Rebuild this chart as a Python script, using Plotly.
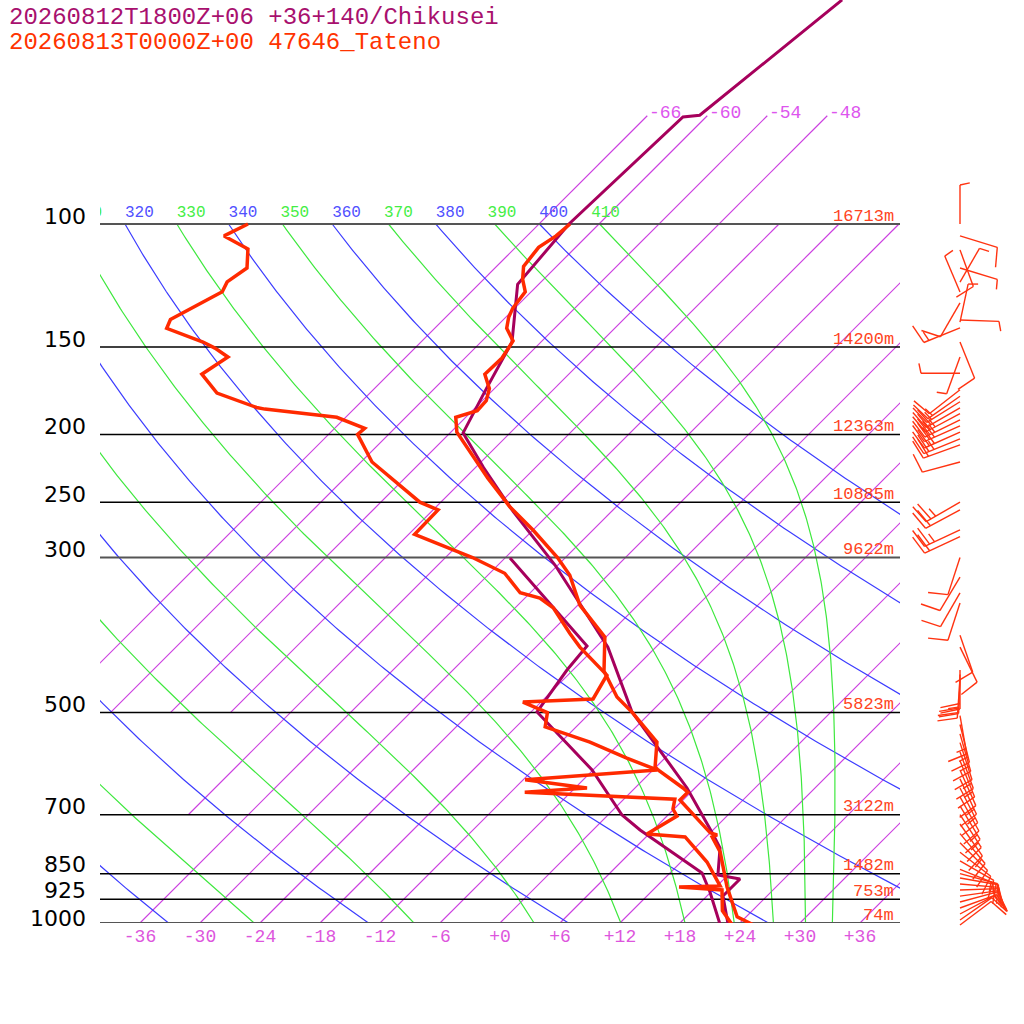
import numpy as np
import plotly.graph_objects as go

# ---------------- data ----------------
TITLE1 = "20260812T1800Z+06 +36+140/Chikusei"
TITLE2 = "20260813T0000Z+00 47646_Tateno"

# Tateno (47646) temperature profile, bottom -> top
tateno_t_p = [1006, 980, 888, 791, 753, 748, 743, 667, 650, 641, 604, 598, 551, 500, 475, 436, 390, 351, 318, 300,
              274, 254, 231, 212, 198.5, 189, 185, 179, 172, 164, 155.5, 147, 141, 136, 132, 125, 120, 115, 108, 104, 100]
tateno_t = [25.5, 23.1, 19.1, 14.9, 12.6, 12.9, 12.0, 5.7, 5.7, 4.8, 0.5, -0.1, -2.4, -7.8, -10.9, -14.8, -18.1, -23.8, -27.8, -30.8,
            -36.0, -40.6, -45.7, -50.1, -53.4, -55.0, -53.5, -53.6, -54.5, -56.4, -56.3, -56.9, -58.8, -59.7, -60.2, -60.6, -62.1, -63.3, -63.7, -63.1, -62.9]
# Tateno dew point profile
tateno_td_p = [1006, 960, 897, 888, 885, 818, 753, 746, 703, 687, 665, 650, 641, 624, 604, 581, 551, 524, 500, 483, 478,
               442, 403, 385, 354, 343, 337, 316, 300, 278, 256.5, 250, 219, 200, 196, 189, 184, 183, 174.5, 164, 155,
               150.5, 147.5, 141, 137, 129, 125, 121, 115.6, 108.6, 104, 100]
tateno_td = [23.4, 21.0, 18.9, 14.3, 18.3, 14.6, 9.9, 5.8, 7.0, 5.9, 5.1, -10.6, -4.8, -11.8, 0.4, -3.8, -9.1, -15.1, -16.3, -19.8, -13.1,
             -14.1, -19.6, -22.0, -26.2, -28.5, -31.0, -34.5, -39.3, -47.4, -47.5, -50.1, -58.9, -63.1, -63.0, -66.9, -74.9, -75.9, -81.3, -84.7, -83.8,
             -86.0, -87.8, -92.8, -93.3, -91.6, -90.9, -91.4, -90.8, -92.6, -96.3, -95.1]
# Chikusei model profile
chik_t_p = [1006, 915, 865, 854, 781, 743, 641, 560, 499, 403, 348.6, 307.5, 258, 223, 199, 172, 147.5, 122, 100, 70.3, 69.9, 47.8]
chik_t = [23.0, 19.6, 19.6, 17.0, 14.5, 12.2, 5.2, -1.9, -7.9, -16.8, -24.0, -30.3, -39.8, -47.2, -52.7, -54.8, -56.9, -62.1, -63.0, -62.3, -60.8, -58.1]
chik_td_p = [1006, 903, 848, 736, 700.6, 604, 499, 434.6, 401.5, 348.6, 300.5]
chik_td = [22.2, 17.9, 15.2, 4.7, 1.4, -6.1, -17.4, -18.6, -19.0, -27.0, -35.5]

# pressure levels and heights
levels = [1000, 925, 850, 700, 500, 300, 250, 200, 150, 100]
heights = ["74m", "753m", "1482m", "3122m", "5823m", "9622m", "10885m", "12363m", "14200m", "16713m"]
gray_levels = [1000, 300, 100]

# temperature ticks
t_ticks = list(range(-36, 37, 6))
t_ticktext = [("+%d" % v if v >= 0 else "%d" % v) for v in t_ticks]
isotherms = list(range(-66, 37, 6))
top_iso_labels = [-66, -60, -54, -48]
dry_thetas = list(range(240, 401, 20))
moist_thetaes = list(range(250, 411, 20))
theta_labels = list(range(310, 411, 10))

# winds (Tateno): pressure, direction (deg), speed (kt)
wind_p = [100, 104.0, 108.9, 115.6, 121.1, 125.1, 129.7, 137.2, 138.2, 140.8, 147.5, 155.0, 163.5, 172.6, 176.4,
          179.6, 183.3, 186.8, 190.7, 194.4, 198.5, 203, 207, 219, 250, 256.5, 274, 280, 300, 320, 337, 348.6,
          387.5, 403, 434.6, 441, 448, 505, 520, 536.4, 552, 569.2, 586, 604.1, 622,
          641.0, 660, 680.1, 700, 721.7, 745, 768, 792, 815, 838, 850, 862.2,
          879.4, 897.0, 915.1, 933.2, 951.8, 970.8, 990.2, 1006.6]
wind_dir = [0, 107, 160, 107, 30, 337, 210, 92, 12, 248, 158, 200, 270, 232, 235,
            238, 240, 242, 244, 246, 246, 248, 250, 255, 240, 242, 245, 245, 198, 211, 210, 198,
            161, 154, 180, 182, 184, 170, 166, 164, 162, 160, 158, 156, 155,
            153, 151, 149, 147, 145, 140, 135, 128, 120, 112, 105, 100,
            95, 88, 82, 75, 70, 62, 55, 53]
wind_spd = [5, 10, 10, 5, 5, 5, 10, 5, 5, 15, 10, 5, 5, 10, 15,
            15, 20, 25, 25, 30, 30, 25, 20, 10, 25, 20, 25, 20, 10, 10, 10, 10,
            10, 10, 20, 20, 25, 15, 15, 15, 10, 15, 15, 10, 15,
            15, 10, 15, 15, 10, 15, 10, 10, 10, 15, 10, 15,
            15, 15, 10, 10, 10, 10, 10, 10]

# ---------------- geometry helpers ----------------
PX_PER_DECADE = 699.0
SKEW = PX_PER_DECADE / 10.0  # degC of x-shift per decade of pressure
P_TOP = 10 ** (3 - 923 / PX_PER_DECADE)


def skx(T, p):
    return np.asarray(T, dtype=float) + SKEW * (3 - np.log10(np.asarray(p, dtype=float)))


Rd, Cp, Lv, EPS = 287.04, 1005.7, 2.501e6, 0.622


def esat(tk):
    tc = tk - 273.15
    return 6.112 * np.exp(17.67 * tc / (tc + 243.5))


def dtdp(tk, p):
    e = esat(tk)
    r = EPS * e / (p - e)
    return (Rd * tk + Lv * r) / (p * (Cp + Lv * Lv * r * EPS / (Rd * tk * tk)))


def theta_e(tk, p):
    e = esat(tk)
    r = 1000 * EPS * e / (p - e)
    th = tk * (1000.0 / p) ** (0.2854 * (1 - 0.00028 * r))
    return th * np.exp((3.376 / tk - 0.00254) * r * (1 + 0.00081 * r))


def moist_profile(the, pgrid):
    lo, hi = 200.0, 330.0
    for _ in range(60):
        mid = 0.5 * (lo + hi)
        if theta_e(mid, 1000.0) > the:
            hi = mid
        else:
            lo = mid
    t = 0.5 * (lo + hi)
    out = [t]
    for i in range(1, len(pgrid)):
        p0, p1 = pgrid[i - 1], pgrid[i]
        dp = p1 - p0
        k1 = dtdp(t, p0)
        k2 = dtdp(t + 0.5 * dp * k1, p0 + 0.5 * dp)
        k3 = dtdp(t + 0.5 * dp * k2, p0 + 0.5 * dp)
        k4 = dtdp(t + dp * k3, p1)
        t = t + dp * (k1 + 2 * k2 + 2 * k3 + k4) / 6.0
        out.append(t)
    return np.array(out) - 273.15


fig = go.Figure()

# isotherms
C_ISO = "#cc40e0"
for T in isotherms:
    p_bot = 1000 if T >= -36 else (700 if T == -42 else 500)
    p_t = 70 if T in top_iso_labels else 100
    pp = np.array([p_bot, p_t], dtype=float)
    fig.add_trace(go.Scatter(x=skx([T, T], pp), y=pp, mode="lines",
                             line=dict(color=C_ISO, width=1.2), hoverinfo="skip", showlegend=False))

pgrid = np.geomspace(1000, 100, 240)
# dry adiabats
for th in dry_thetas:
    tt = th * (pgrid / 1000.0) ** 0.2857 - 273.15
    fig.add_trace(go.Scatter(x=skx(tt, pgrid), y=pgrid, mode="lines",
                             line=dict(color="#3c3cff", width=1.2), hoverinfo="skip", showlegend=False))
# moist adiabats
for the in moist_thetaes:
    tt = moist_profile(the, pgrid)
    fig.add_trace(go.Scatter(x=skx(tt, pgrid), y=pgrid, mode="lines",
                             line=dict(color="#3ee83e", width=1.2), hoverinfo="skip", showlegend=False))

# pressure lines
for p in levels:
    g = p in gray_levels
    fig.add_trace(go.Scatter(x=[-40, 40], y=[p, p], mode="lines",
                             line=dict(color="#555555" if g else "#000000", width=2 if g else 1.5),
                             hoverinfo="skip", showlegend=False))

# theta labels at top (clipped by plot area); the 310 label is mostly outside the plot area
P_LAB = 10 ** (3 - (923 - 213) / PX_PER_DECADE)
CHAR_W = 0.96  # width of one label character in degC units (9.6 px)
for color, cond in (("#5050ff", lambda t: t % 20 == 0), ("#44ee44", lambda t: t % 20 != 0)):
    xs, ts = [], []
    for t in theta_labels:
        if not cond(t):
            continue
        x0 = t * 0.1 ** 0.2857 - 273.15 + SKEW
        s = str(t)
        if x0 < -40:  # keep only the part of the label that reaches the plot area
            k = int(np.ceil((-40 - x0) / CHAR_W)) - 1
            x0 += k * CHAR_W
            s = s[k:]
        xs.append(x0)
        ts.append(s)
    fig.add_trace(go.Scatter(x=xs, y=[P_LAB] * len(xs), mode="text", text=ts, textposition="middle right",
                             textfont=dict(family="Liberation Mono", size=16, color=color),
                             cliponaxis=True, hoverinfo="skip", showlegend=False))

# profiles
C_CHIK = "#a6005c"
C_TAT = "#ff2a00"
fig.add_trace(go.Scatter(x=skx(chik_td, chik_td_p), y=chik_td_p, mode="lines",
                         line=dict(color=C_CHIK, width=3), hoverinfo="skip", showlegend=False))
fig.add_trace(go.Scatter(x=skx(chik_t, chik_t_p), y=chik_t_p, mode="lines",
                         line=dict(color=C_CHIK, width=3), hoverinfo="skip", showlegend=False))
fig.add_trace(go.Scatter(x=skx(tateno_td, tateno_td_p), y=tateno_td_p, mode="lines",
                         line=dict(color=C_TAT, width=3.5), hoverinfo="skip", showlegend=False))
fig.add_trace(go.Scatter(x=skx(tateno_t, tateno_t_p), y=tateno_t_p, mode="lines",
                         line=dict(color=C_TAT, width=3.5), hoverinfo="skip", showlegend=False))

# wind barbs on second axes (x2 in pixels, y2 log-pressure)
STAFF, FULL, HALF, GAP = 39.0, 20.0, 10.0, 5.5
bx, by = [], []


def to_p(p_base, up_px):
    return 10 ** (np.log10(p_base) - up_px / PX_PER_DECADE)


for p, d, s in zip(wind_p, wind_dir, wind_spd):
    a = np.radians(d)
    ux, uy = np.sin(a), np.cos(a)          # toward direction wind comes from (x right, y up)
    px_, py_ = uy, -ux                      # clockwise perpendicular
    lean = np.radians(12)
    tx = np.cos(lean) * px_ + np.sin(lean) * ux
    ty = np.cos(lean) * py_ + np.sin(lean) * uy
    bx += [0, STAFF * ux, None]
    by += [p, to_p(p, STAFF * uy), None]
    n_full, half = s // 10, (s % 10) >= 5
    pos = STAFF
    for _ in range(n_full):
        sx0, sy0 = pos * ux, pos * uy
        bx += [sx0, sx0 + FULL * tx, None]
        by += [to_p(p, sy0), to_p(p, sy0 + FULL * ty), None]
        pos -= GAP
    if half:
        sx0, sy0 = pos * ux, pos * uy
        bx += [sx0, sx0 + HALF * tx, None]
        by += [to_p(p, sy0), to_p(p, sy0 + HALF * ty), None]

fig.add_trace(go.Scatter(x=bx, y=by, xaxis="x2", yaxis="y2", mode="lines",
                         line=dict(color="#ff3311", width=1.4), hoverinfo="skip", showlegend=False))

# annotations
P_LABEL_SHIFT = {1000: 5, 925: 9, 850: 9}
ann = []
ann.append(dict(text=TITLE1, xref="paper", yref="paper", x=7 / 1024, y=1 - 17 / 1024, xanchor="left", yanchor="middle",
                showarrow=False, font=dict(family="Liberation Mono", size=24, color="#a8106e")))
ann.append(dict(text=TITLE2, xref="paper", yref="paper", x=7 / 1024, y=1 - 42 / 1024, xanchor="left", yanchor="middle",
                showarrow=False, font=dict(family="Liberation Mono", size=24, color="#ff3300")))
for p, h in zip(levels, heights):
    ann.append(dict(text=str(p), xref="paper", yref="y", x=88 / 1024, y=np.log10(p), xanchor="right",
                    yanchor="middle", yshift=P_LABEL_SHIFT.get(p, 8), showarrow=False,
                    font=dict(family="DejaVu Sans", size=22, color="#000000")))
    ann.append(dict(text=h, xref="x", yref="y", x=39.6, y=np.log10(p), xanchor="right",
                    yanchor="middle", yshift=8, showarrow=False,
                    font=dict(family="Liberation Mono", size=17, color="#ff4422")))
for T in top_iso_labels:
    ann.append(dict(text=str(T), xref="x", yref="y", x=float(skx(T, 70)), y=np.log10(70), xanchor="left",
                    yanchor="bottom", yshift=-9, showarrow=False,
                    font=dict(family="Liberation Mono", size=18, color="#dd55ee")))

fig.update_layout(
    width=1024, height=1024, margin=dict(l=0, r=0, t=0, b=0),
    paper_bgcolor="white", plot_bgcolor="white", showlegend=False,
    annotations=ann,
    xaxis=dict(domain=[100 / 1024, 900 / 1024], range=[-40, 40], showgrid=False, zeroline=False,
               showline=False, ticks="", tickvals=t_ticks, ticktext=t_ticktext,
               tickfont=dict(family="Liberation Mono", size=18, color="#dd55dd"), anchor="y"),
    yaxis=dict(domain=[101 / 1024, 1], type="log", range=[3, np.log10(P_TOP)], showgrid=False,
               zeroline=False, showline=False, showticklabels=False, ticks="", anchor="x"),
    xaxis2=dict(domain=[900 / 1024, 1], range=[-60, 64], visible=False, anchor="y2"),
    yaxis2=dict(domain=[91 / 1024, 1], type="log", range=[3 + 10 / PX_PER_DECADE, np.log10(P_TOP)],
                visible=False, anchor="x2"),
)

fig.write_html("out.html", config={"displayModeBar": False},
               post_script="document.body.style.margin='0';")
